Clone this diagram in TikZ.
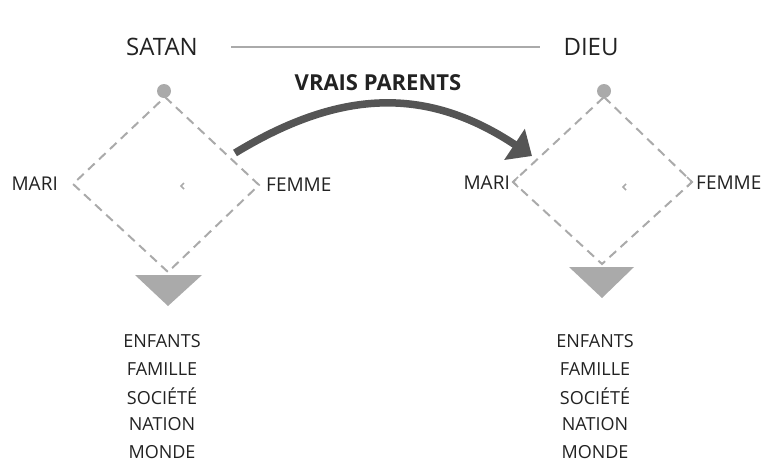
\documentclass[tikz,border=0pt]{standalone}
\usepackage{fontspec}
\setmainfont{Open Sans}
\usetikzlibrary{arrows.meta}
\definecolor{lightgr}{HTML}{AAAAAA}
\definecolor{darkgr}{HTML}{555555}
\definecolor{textgr}{HTML}{222222}
\tikzset{
    title/.style = {font=\fontsize{24}{28}\selectfont, text=textgr},
    bold/.style = {font=\fontsize{22}{26}\selectfont\bfseries, text=textgr},
    side/.style = {font=\fontsize{19}{22}\selectfont, text=textgr, inner sep=1pt},
    item/.style = {font=\fontsize{18}{21}\selectfont, text=textgr},
    edged/.style = {lightgr, line width=2pt, dash pattern=on 9pt off 6pt},
    rule/.style = {lightgr, line width=1.2pt},
    headdot/.style = {circle, fill=lightgr, minimum size=14pt, inner sep=0pt},
    tipmark/.style = {lightgr, line width=1.5pt},
    bigarrow/.style = {darkgr, line width=7.5pt, -{Triangle[length=21pt,width=36pt]}}
}

\begin{document}
\begin{tikzpicture}[x=1pt,y=-1pt]
  \useasboundingbox (0,0) rectangle (765,461);

  % top line
  \node[title] (satan) at (162,47) {SATAN};
  \node[title] (dieu) at (591,47) {DIEU};
  \draw[rule] ([xshift=30pt]satan.east) -- ([xshift=-20pt]dieu.west);

  \node[bold] (vp) at (378,83) {VRAIS PARENTS};

  % left diamond
  \coordinate (t1) at (165,97);
  \coordinate (l1) at (73,184);
  \coordinate (r1) at (259,185);
  \coordinate (b1) at (168,272);
  \draw[edged] (t1) -- (r1) -- (b1) -- (l1) -- cycle;
  \node[headdot] (h1) at (164,91) {};
  \fill[lightgr] (135,275) -- (202,275) -- (168,306) -- cycle;
  \draw[tipmark] (184,183) -- (181,186) -- (184,189);
  \node[side, anchor=east] (mari1) at (59,184) {MARI};
  \node[side, anchor=west] (femme1) at (265,185) {FEMME};

  % right diamond
  \coordinate (t2) at (604,97);
  \coordinate (l2) at (513,182);
  \coordinate (r2) at (692,182);
  \coordinate (b2) at (602,264);
  \draw[edged] (t2) -- (r2) -- (b2) -- (l2) -- cycle;
  \node[headdot] (h2) at (604,91) {};
  \fill[lightgr] (569,267) -- (634,267) -- (602,298) -- cycle;
  \draw[tipmark] (626,184) -- (623,187) -- (626,190);
  \draw[tipmark] (518,177) -- (513,182) -- (518,187);
  \draw[tipmark] (687,177) -- (692,182) -- (687,187);
  \node[side, anchor=east] (mari2) at (511,183) {MARI};
  \node[side, anchor=west] (femme2) at (695,183) {FEMME};

  % arrow
  \coordinate (from) at (235,153);
  \coordinate (to) at (532,156);
  \draw[bigarrow] (from) .. controls (342,88) and (428,87) .. (to);

  % lists
  \foreach \w [count=\i] in {ENFANTS,FAMILLE,SOCIÉTÉ,NATION,MONDE} {
    \node[item] (l\i) at (162,{341+27.7*(\i-1)}) {\w};
    \node[item] (r\i) at (595,{341+27.7*(\i-1)}) {\w};
  }
\end{tikzpicture}
\end{document}
